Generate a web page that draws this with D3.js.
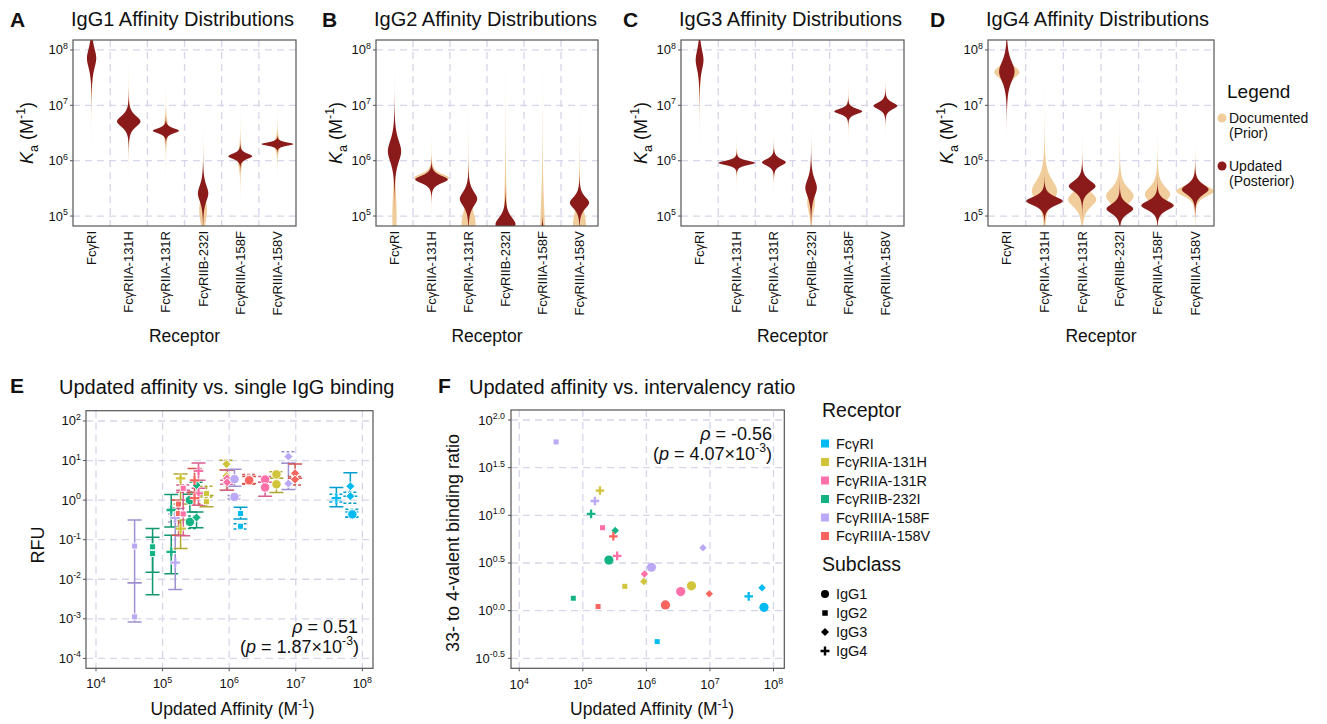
<!DOCTYPE html>
<html><head><meta charset="utf-8">
<script src="https://cdn.jsdelivr.net/npm/d3@7"></script>
<style>body{margin:0;background:#fff} text{font-family:"Liberation Sans",Arial,Helvetica,sans-serif;fill:#111}</style>
</head><body><svg id="c" width="1327" height="724"></svg>
<script>
// ---------------- DATA ----------------
const receptors = ["FcγRI","FcγRIIA-131H","FcγRIIA-131R","FcγRIIB-232I","FcγRIIIA-158F","FcγRIIIA-158V"];
const subclasses = ["IgG1","IgG2","IgG3","IgG4"];
const receptorColors = ["#00BBF2","#CFC43A","#FF6FA8","#13B384","#BBA9F5","#F8655F"];
const kaTicks = [5,6,7,8];            // log10 Ka tick exponents (panels A-D)
const affTicks = [4,5,6,7,8];         // log10 affinity ticks (E, F)
const rfuTicks = [-4,-3,-2,-1,0,1,2]; // log10 RFU ticks (E)
const ratioTicks = [-0.5,0,0.5,1,1.5,2]; // log10 ratio ticks (F)

// Posterior (updated) affinity distributions, log10 Ka: [subclass][receptor]
const postMu = [[7.85,6.71,6.54,5.41,6.08,6.30],[6.17,5.66,5.31,4.85,4.58,5.24],[7.82,5.96,5.97,5.51,6.89,6.99],[7.61,5.27,5.54,5.13,5.19,5.48]];
const postSd = [[0.21,0.115,0.052,0.17,0.055,0.034],[0.23,0.078,0.15,0.15,0.10,0.12],[0.21,0.045,0.068,0.18,0.055,0.07],[0.21,0.09,0.11,0.10,0.095,0.105]];
const postPeak = [[0.25,0.63,0.70,0.28,0.64,0.86],[0.36,0.88,0.47,0.54,0.54,0.52],[0.21,0.98,0.64,0.31,0.75,0.64],[0.41,0.97,0.71,0.71,0.86,0.71]];
// Prior (documented) affinity distributions
const priorMu = [[7.75,6.70,6.55,5.10,6.05,6.30],[5.0,5.69,4.85,4.7,4.7,4.85],[7.7,5.96,5.97,5.25,6.89,6.99],[7.6,5.45,5.30,5.36,5.39,5.45]];
const priorSd = [[0.3,0.2,0.15,0.25,0.15,0.1],[0.5,0.08,0.3,0.6,0.6,0.3],[0.3,0.08,0.1,0.2,0.1,0.1],[0.115,0.22,0.15,0.16,0.15,0.10]];
const priorPeak = [[0.08,0.12,0.16,0.21,0.16,0.2],[0.12,0.94,0.38,0.13,0.13,0.35],[0.08,0.2,0.16,0.21,0.16,0.16],[0.67,0.67,0.75,0.73,0.67,1.0]];

// Panel E: single IgG binding (log10 RFU) — receptor idx, subclass idx, mean, low, high, dashed
const eRec  = [4,4,3,3,3,3,4,4,5,5,1,1,2,2,3,3,3,3,2,2,5,5,1,1,1,1,2,2,4,4,0,0,5,5,2,2,1,1,4,4,5,5,0,0,0,0,0,0];
const eSub  = [1,1,1,1,3,3,3,3,1,1,3,3,1,1,0,0,2,2,3,3,3,3,1,1,2,2,2,2,0,0,1,1,0,0,0,0,0,0,2,2,2,2,3,3,2,2,0,0];
const eY    = [-1.16,-2.95,-1.18,-1.35,-0.25,-1.31,-1.58,-0.45,-0.34,-0.10,0.55,-0.72,0.30,-0.35,0.00,-0.55,0.38,-0.44,0.74,0.17,0.50,0.05,0.17,-0.04,0.91,0.61,0.55,0.45,0.53,0.08,-0.34,-0.66,0.52,0.50,0.52,0.32,0.65,0.40,1.10,0.42,0.68,0.52,0.02,0.05,0.35,0.10,-0.34,-0.36];
const eLo   = [-2.09,-3.08,-1.82,-2.39,-0.68,-1.86,-2.26,-0.55,-0.89,-0.20,-0.10,-1.22,0.20,-0.90,-0.30,-0.72,0.20,-0.70,0.50,-0.13,0.20,-0.10,0.08,-0.17,0.76,0.25,0.25,0.40,0.35,0.03,-0.48,-0.73,0.40,0.42,0.45,0.10,0.55,0.19,0.93,0.27,0.55,0.38,-0.17,-0.05,0.10,-0.08,-0.43,-0.42];
const eHi   = [-0.50,-2.09,-0.72,-0.94,0.14,-0.89,-0.21,-0.35,0.00,0.00,0.66,-0.50,0.38,0.25,0.15,-0.40,0.45,-0.30,0.94,0.30,0.80,0.15,0.35,0.12,1.01,0.76,0.76,0.50,0.78,0.12,-0.18,-0.60,0.65,0.60,0.60,0.45,0.72,0.55,1.22,0.93,0.91,0.60,0.32,0.15,0.69,0.20,-0.23,-0.30];
const eDash = [0,0,0,0,0,0,0,1,0,1,0,0,1,0,0,1,1,0,0,0,0,1,1,0,1,0,0,1,0,1,0,1,1,0,1,0,1,0,1,0,0,1,0,1,0,1,1,1];

// Panel F: log10 33- to 4-valent binding ratio [subclass][receptor]
const fRatio = [[0.035,0.26,0.20,0.53,0.455,0.06],[-0.325,0.255,0.87,0.13,1.77,0.043],[0.24,0.305,0.385,0.84,0.66,0.176],[0.15,1.26,0.575,1.015,1.15,0.78]];

// ---------------- DRAWING ----------------
const svg = d3.select("#c");
const gridColor = "#D6D6EA", borderColor = "#555";
const priorColor = "#F0CD9B", postColor = "#8B1A1A";

function rich(sel, parts, size) {
  let shift = 0;
  parts.forEach(p => {
    const t = sel.append("tspan").text(p.t);
    let target = 0, fs = size;
    if (p.sup) { target = -size*0.42; fs = size*0.68; }
    if (p.sub) { target = size*0.25; fs = size*0.7; }
    if (target !== shift) { t.attr("dy", target - shift); shift = target; }
    if (fs !== size) t.attr("font-size", fs);
    if (p.i) t.attr("font-style", "italic");
  });
}
function hgrid(g, ys, x0, x1){ g.selectAll(null).data(ys).join("line").attr("x1",x0).attr("x2",x1).attr("y1",d=>d).attr("y2",d=>d).attr("stroke",gridColor).attr("stroke-width",1.3).attr("stroke-dasharray","7,5"); }
function vgrid(g, xs, y0, y1){ g.selectAll(null).data(xs).join("line").attr("y1",y0).attr("y2",y1).attr("x1",d=>d).attr("x2",d=>d).attr("stroke",gridColor).attr("stroke-width",1.3).attr("stroke-dasharray","7,5"); }
function border(g,L,T,R,B){ g.append("rect").attr("x",L).attr("y",T).attr("width",R-L).attr("height",B-T).attr("fill","none").attr("stroke",borderColor).attr("stroke-width",1.2); }
// density kernels: prior (Student-t, 3 dof), posterior (hyperbolic, rounded top / exponential tails)
function priorKernel(z){ return Math.pow(1 + z*z/3, -2); }
function postKernel(z){ return Math.exp(-1.5*(Math.sqrt(1 + z*z) - 1)); }

// ---- top panels ----
const topLayout = [
  {letter:"A", lx:10,  L:73,  R:296,  yl:33},
  {letter:"B", lx:322, L:376, R:598,  yl:342},
  {letter:"C", lx:623, L:681, R:904,  yl:647},
  {letter:"D", lx:930, L:988, R:1214, yl:953}
];
const T0 = 40, B0 = 226;
topLayout.forEach((p, k) => {
  const g = svg.append("g");
  const x = d3.scaleBand().domain(receptors).range([p.L, p.R]);
  const y = d3.scaleLog().domain([10**4.82, 10**8.18]).range([B0, T0]);
  const hb = x.bandwidth()/2;
  vgrid(g, receptors.slice(1).map(r => x(r)), T0, B0);
  hgrid(g, kaTicks.map(e => y(10**e)), p.L, p.R);
  const cid = "clipTop"+k;
  svg.append("clipPath").attr("id", cid).append("rect").attr("x",p.L).attr("y",T0).attr("width",p.R-p.L).attr("height",B0-T0);
  const vg = g.append("g").attr("clip-path", `url(#${cid})`);
  const levels = d3.range(4.80, 8.20, 0.003);
  const area = d3.area().curve(d3.curveLinear);
  const drawViolin = (cx, mu, sd, peak, kern, color) => {
    const pts = levels.map(v => [v, peak*hb*kern((v-mu)/sd)]);
    area.x0(d => cx - d[1]).x1(d => cx + d[1]).y(d => y(10**d[0]));
    vg.append("path").attr("d", area(pts)).attr("fill", color);
  };
  receptors.forEach((r, i) => drawViolin(x(r)+hb, priorMu[k][i], priorSd[k][i], priorPeak[k][i], priorKernel, priorColor));
  receptors.forEach((r, i) => drawViolin(x(r)+hb, postMu[k][i], postSd[k][i], postPeak[k][i], postKernel, postColor));
  border(g, p.L, T0, p.R, B0);
  kaTicks.forEach(e => {
    g.append("line").attr("x1",p.L-3).attr("x2",p.L).attr("y1",y(10**e)).attr("y2",y(10**e)).attr("stroke",borderColor);
    const t = g.append("text").attr("x", p.L-5).attr("y", y(10**e)+4.5).attr("text-anchor","end").attr("font-size",13);
    rich(t, [{t:"10"},{t:String(e), sup:true}], 13);
  });
  receptors.forEach(r => {
    g.append("text").attr("transform", `translate(${x(r)+hb+4.5},231) rotate(-90)`).attr("text-anchor","end").attr("font-size",13).text(r);
  });
  g.append("text").attr("x",(p.L+p.R)/2).attr("y",342).attr("text-anchor","middle").attr("font-size",17.5).text("Receptor");
  const yl = g.append("text").attr("transform", `translate(${p.yl},133) rotate(-90)`).attr("text-anchor","middle").attr("font-size",18);
  rich(yl, [{t:"K", i:true},{t:"a", sub:true},{t:" (M"},{t:"-1", sup:true},{t:")"}], 18);
  g.append("text").attr("x",p.lx).attr("y",27).attr("font-size",21).attr("font-weight","bold").text(p.letter);
  g.append("text").attr("x",p.L-2).attr("y",26).attr("font-size",20).text(subclasses[k] + " Affinity Distributions");
});
// top legend
{
  const g = svg.append("g");
  g.append("text").attr("x",1227).attr("y",98).attr("font-size",19).text("Legend");
  g.append("circle").attr("cx",1222).attr("cy",118).attr("r",4.5).attr("fill",priorColor);
  g.append("text").attr("x",1229).attr("y",123).attr("font-size",14).text("Documented");
  g.append("text").attr("x",1229).attr("y",138).attr("font-size",14).text("(Prior)");
  g.append("circle").attr("cx",1222).attr("cy",166).attr("r",4.5).attr("fill",postColor);
  g.append("text").attr("x",1229).attr("y",171).attr("font-size",14).text("Updated");
  g.append("text").attr("x",1229).attr("y",186).attr("font-size",14).text("(Posterior)");
}

// ---- marker helper ----
function marker(g, sub, cx, cy, color, sz, outline) {
  let el;
  if (sub === 0) el = g.append("circle").attr("cx",cx).attr("cy",cy).attr("r",sz.r).attr("fill",color);
  else if (sub === 1) el = g.append("rect").attr("x",cx-sz.s/2).attr("y",cy-sz.s/2).attr("width",sz.s).attr("height",sz.s).attr("fill",color);
  else if (sub === 2) el = g.append("path").attr("d",`M${cx},${cy-sz.d}L${cx+sz.d},${cy}L${cx},${cy+sz.d}L${cx-sz.d},${cy}Z`).attr("fill",color);
  else {
    if (outline) g.append("path").attr("d",`M${cx-sz.p},${cy}H${cx+sz.p}M${cx},${cy-sz.p}V${cy+sz.p}`).attr("stroke","#fff").attr("stroke-width",sz.w+1.4);
    g.append("path").attr("d",`M${cx-sz.p},${cy}H${cx+sz.p}M${cx},${cy-sz.p}V${cy+sz.p}`).attr("stroke",color).attr("stroke-width",sz.w);
    return;
  }
  if (outline) el.attr("stroke","#fff").attr("stroke-width",0.9);
}

// ---- Panel E ----
{
  const L=86, R=373, T=410.7, B=668.3;
  const g = svg.append("g");
  const x = d3.scaleLog().domain([10**3.85, 10**8.16]).range([L, R]);
  const y = d3.scaleLog().domain([10**-4.25, 10**2.26]).range([B, T]);
  vgrid(g, affTicks.map(e => x(10**e)), T, B);
  hgrid(g, rfuTicks.map(e => y(10**e)), L, R);
  const idx = d3.range(eY.length);
  const xs = i => x(10**postMu[eSub[i]][eRec[i]]);
  idx.forEach(i => {
    const c = d3.color(receptorColors[eRec[i]]).darker(0.45).formatHex();
    const cx = xs(i), y1 = y(10**eHi[i]), y2 = y(10**eLo[i]);
    const eg = g.append("g").attr("stroke", c).attr("stroke-width", 1.5).attr("fill","none");
    if (eDash[i]) eg.attr("stroke-dasharray","3,2");
    eg.append("path").attr("d", `M${cx},${y1}V${y2}M${cx-7},${y1}H${cx+7}M${cx-7},${y2}H${cx+7}`);
  });
  const sz = {r:4.7, s:6, d:4.5, p:4.7, w:2.3};
  idx.forEach(i => marker(g, eSub[i], xs(i), y(10**eY[i]), receptorColors[eRec[i]], sz, true));
  border(g, L, T, R, B);
  affTicks.forEach(e => {
    g.append("line").attr("x1",x(10**e)).attr("x2",x(10**e)).attr("y1",B).attr("y2",B+3).attr("stroke",borderColor);
    const t = g.append("text").attr("x",x(10**e)).attr("y",688).attr("text-anchor","middle").attr("font-size",13);
    rich(t, [{t:"10"},{t:String(e), sup:true}], 13);
  });
  rfuTicks.forEach(e => {
    g.append("line").attr("x1",L-3).attr("x2",L).attr("y1",y(10**e)).attr("y2",y(10**e)).attr("stroke",borderColor);
    const t = g.append("text").attr("x",L-5).attr("y",y(10**e)+4.5).attr("text-anchor","end").attr("font-size",13);
    rich(t, [{t:"10"},{t:String(e), sup:true}], 13);
  });
  const xl = g.append("text").attr("x",(L+R)/2+3).attr("y",715).attr("text-anchor","middle").attr("font-size",17.5);
  rich(xl, [{t:"Updated Affinity (M"},{t:"-1", sup:true},{t:")"}], 17.5);
  g.append("text").attr("transform","translate(44,545) rotate(-90)").attr("text-anchor","middle").attr("font-size",18).text("RFU");
  const a1 = g.append("text").attr("x",358).attr("y",633).attr("text-anchor","end").attr("font-size",18);
  rich(a1, [{t:"ρ", i:true},{t:" = 0.51"}], 18);
  const a2 = g.append("text").attr("x",359).attr("y",653).attr("text-anchor","end").attr("font-size",18);
  rich(a2, [{t:"("},{t:"p", i:true},{t:" = 1.87×10"},{t:"-3", sup:true},{t:")"}], 18);
  g.append("text").attr("x",10).attr("y",393).attr("font-size",21).attr("font-weight","bold").text("E");
  g.append("text").attr("x",59).attr("y",394).attr("font-size",20).text("Updated affinity vs. single IgG binding");
}

// ---- Panel F ----
{
  const L=511, R=784.3, T=410, B=668.3;
  const g = svg.append("g");
  const x = d3.scaleLog().domain([10**3.87, 10**8.17]).range([L, R]);
  const y = d3.scaleLinear().domain([-0.605, 2.105]).range([B, T]);
  vgrid(g, affTicks.map(e => x(10**e)), T, B);
  hgrid(g, ratioTicks.map(v => y(v)), L, R);
  const sz = {r:4.6, s:5, d:3.7, p:4.3, w:2.3};
  subclasses.forEach((s, k) => receptors.forEach((r, i) => {
    marker(g, k, x(10**postMu[k][i]), y(fRatio[k][i]), receptorColors[i], sz, false);
  }));
  border(g, L, T, R, B);
  affTicks.forEach(e => {
    g.append("line").attr("x1",x(10**e)).attr("x2",x(10**e)).attr("y1",B).attr("y2",B+3).attr("stroke",borderColor);
    const t = g.append("text").attr("x",x(10**e)).attr("y",689).attr("text-anchor","middle").attr("font-size",13);
    rich(t, [{t:"10"},{t:String(e), sup:true}], 13);
  });
  ratioTicks.forEach(v => {
    g.append("line").attr("x1",L-3).attr("x2",L).attr("y1",y(v)).attr("y2",y(v)).attr("stroke",borderColor);
    const t = g.append("text").attr("x",L-6).attr("y",y(v)+4.5).attr("text-anchor","end").attr("font-size",13);
    rich(t, [{t:"10"},{t:v.toFixed(1), sup:true}], 13);
  });
  const xl = g.append("text").attr("x",652).attr("y",715).attr("text-anchor","middle").attr("font-size",17.5);
  rich(xl, [{t:"Updated Affinity (M"},{t:"-1", sup:true},{t:")"}], 17.5);
  g.append("text").attr("transform","translate(459,543) rotate(-90)").attr("text-anchor","middle").attr("font-size",18).text("33- to 4-valent binding ratio");
  const a1 = g.append("text").attr("x",772).attr("y",440).attr("text-anchor","end").attr("font-size",18);
  rich(a1, [{t:"ρ", i:true},{t:" = -0.56"}], 18);
  const a2 = g.append("text").attr("x",772).attr("y",460).attr("text-anchor","end").attr("font-size",18);
  rich(a2, [{t:"("},{t:"p", i:true},{t:" = 4.07×10"},{t:"-3", sup:true},{t:")"}], 18);
  g.append("text").attr("x",438).attr("y",393).attr("font-size",21).attr("font-weight","bold").text("F");
  g.append("text").attr("x",469).attr("y",394).attr("font-size",20).text("Updated affinity vs. intervalency ratio");
}

// ---- Legend for E/F ----
{
  const g = svg.append("g");
  g.append("text").attr("x",822).attr("y",417).attr("font-size",19.5).text("Receptor");
  receptors.forEach((r, i) => {
    const cy = 443.5 + i*18.5;
    g.append("rect").attr("x",821).attr("y",cy-4).attr("width",8).attr("height",8).attr("fill",receptorColors[i]);
    g.append("text").attr("x",836).attr("y",cy+5).attr("font-size",14.5).text(r);
  });
  g.append("text").attr("x",822).attr("y",571).attr("font-size",19.5).text("Subclass");
  const sz = {r:4, s:5.5, d:4, p:4.5, w:2.4};
  subclasses.forEach((s, k) => {
    const cy = 594 + k*19;
    marker(g, k, 825, cy, "#000", sz, false);
    g.append("text").attr("x",836).attr("y",cy+5).attr("font-size",14.5).text(s);
  });
}
</script></body></html>
